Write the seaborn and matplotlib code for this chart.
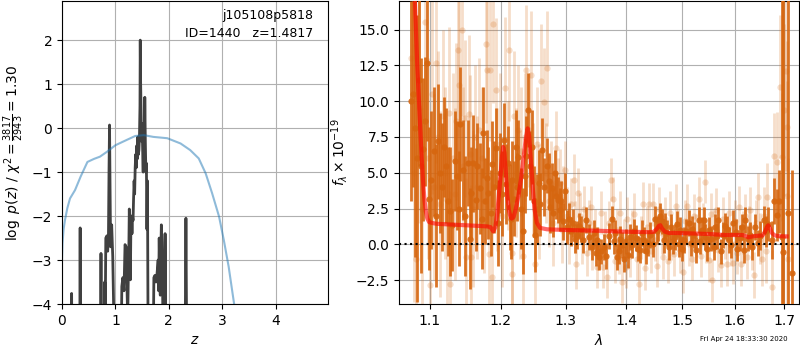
import numpy as np
import pandas as pd
import matplotlib
matplotlib.use("Agg")
import matplotlib.pyplot as plt
import seaborn as sns
from matplotlib.ticker import FixedLocator, FixedFormatter, NullLocator

# ---------------- data: redshift fit panel ----------------
pz_z = [0.00, 0.17, 0.18, 0.19, 0.33, 0.34, 0.35, 0.72, 0.73, 0.74, 0.79, 0.80, 0.81, 0.82,
        0.84, 0.855, 0.87, 0.88, 0.89, 0.90, 0.91, 0.93, 0.95, 0.97, 1.10, 1.12, 1.14, 1.16,
        1.17, 1.18, 1.20, 1.21, 1.22, 1.23, 1.24, 1.25, 1.26, 1.27, 1.28, 1.29, 1.30, 1.31,
        1.32, 1.33, 1.34, 1.35, 1.36, 1.37, 1.38, 1.39, 1.40, 1.41, 1.42, 1.43, 1.44, 1.45,
        1.46, 1.465, 1.47, 1.48, 1.49, 1.50, 1.51, 1.52, 1.53, 1.54, 1.55, 1.56, 1.57, 1.58,
        1.59, 1.60, 1.61, 1.70, 1.72, 1.74, 1.76, 1.78, 1.80, 1.81, 1.82, 1.83, 1.84, 1.85,
        1.86, 1.87, 1.88, 1.89, 1.92, 1.93, 1.94, 2.30, 2.32, 2.34, 3.00]
pz_logp = [-6, -6, -3.76, -6, -6, -2.27, -6, -6, -2.85, -6, -6, -3.5, -4.2, -2.5,
           -2.45, -2.8, -2.4, -1.0, 0.07, -1.4, -2.7, -2.2, -2.92, -4.3, -6, -3.6, -3.4, -3.7,
           -3.2, -2.65, -2.7, -3.1, -3.8, -4.3, -3.5, -2.9, -1.84, -2.5, -3.45, -2.2, -2.0, -2.4,
           -2.0, -2.1, -1.6, -1.2, -1.5, -0.9, -0.6, -0.9, -0.4, -0.7, -0.2, -0.6, -0.5, -0.2,
           0.5, 2.0, 1.2, 0.4, -0.3, 0.1, -0.5, -1.0, 0.1, -0.9, 0.7, -0.3, -1.0, -0.8,
           -2.3, -1.2, -4.3, -6, -3.4, -3.35, -3.5, -3.3, -3.0, -3.7, -2.5, -3.3, -3.8, -2.9,
           -2.2, -2.6, -3.2, -4.5, -6, -2.4, -4.5, -6, -2.05, -6, -6]

prior_z = [0.00, 0.01, 0.03, 0.056, 0.10, 0.15, 0.244, 0.35, 0.476, 0.60, 0.71, 0.84, 1.00,
           1.21, 1.37, 1.53, 1.71, 1.97, 2.22, 2.40, 2.56, 2.69, 2.81, 2.94, 3.03, 3.12,
           3.22, 3.35]
prior_logp = [-3.0, -2.61, -2.30, -2.09, -1.82, -1.60, -1.41, -1.10, -0.77, -0.70, -0.65,
              -0.54, -0.39, -0.27, -0.18, -0.16, -0.20, -0.23, -0.35, -0.50, -0.69, -1.03,
              -1.48, -2.01, -2.55, -3.15, -3.98, -5.0]

# ---------------- data: spectrum panel ----------------
dark_wave = [1.0745, 1.0768, 1.0798, 1.0830, 1.0860, 1.0885, 1.0906, 1.0940, 1.0955, 1.0990,
             1.1020, 1.1054, 1.1085, 1.1110, 1.1140, 1.1167, 1.1195, 1.1220, 1.1250, 1.1280,
             1.1300, 1.1340, 1.1370, 1.1395, 1.1417, 1.1450, 1.1489, 1.1525, 1.1550, 1.1575,
             1.1600, 1.1635, 1.1660, 1.1700, 1.1720, 1.1745, 1.1770, 1.1800, 1.1816, 1.1850,
             1.1877, 1.1900, 1.1926, 1.1960, 1.1985, 1.2015, 1.2054, 1.2080, 1.2104, 1.2130,
             1.2152, 1.2173, 1.2200, 1.2222, 1.2240, 1.2260, 1.2300, 1.2332, 1.2360, 1.2385,
             1.2412, 1.2440, 1.2462, 1.2495, 1.2523, 1.2550, 1.2573, 1.2600, 1.2624, 1.2660,
             1.2700, 1.2727, 1.2750, 1.2778, 1.2800, 1.2820, 1.2850, 1.2870, 1.2900, 1.2920,
             1.2950, 1.2985, 1.3020, 1.3050, 1.3080, 1.3110, 1.3140, 1.3180, 1.3210, 1.3245,
             1.3280, 1.3320, 1.3380, 1.3420, 1.3460, 1.3490, 1.3510, 1.3545, 1.3580, 1.3620,
             1.3660, 1.3700, 1.3760, 1.3790, 1.3815, 1.3845, 1.3872, 1.3900, 1.3930, 1.3960,
             1.3990, 1.4025, 1.4060, 1.4100, 1.4135, 1.4170, 1.4200, 1.4240, 1.4270, 1.4310,
             1.4340, 1.4380, 1.4415, 1.4460, 1.4505, 1.4540, 1.4565, 1.4600, 1.4625, 1.4660,
             1.4690, 1.4715, 1.4750, 1.4790, 1.4830, 1.4867, 1.4900, 1.4930, 1.4960, 1.5000,
             1.5035, 1.5070, 1.5115, 1.5150, 1.5180, 1.5210, 1.5250, 1.5300, 1.5330, 1.5360,
             1.5395, 1.5430, 1.5460, 1.5490, 1.5530, 1.5585, 1.5620, 1.5650, 1.5680, 1.5720,
             1.5760, 1.5800, 1.5840, 1.5880, 1.5925, 1.5960, 1.6015, 1.6050, 1.6100, 1.6140,
             1.6170, 1.6200, 1.6250, 1.6300, 1.6340, 1.6405, 1.6450, 1.6500, 1.6580, 1.6630,
             1.6670, 1.6755, 1.6790, 1.6840, 1.6890, 1.6962, 1.6968, 1.7068, 1.7161]
dark_flux = [10.0, 10.5, 8.1, 6.0, 11.5, 5.5, 6.65, 8.6, 12.7, 3.2,
             4.5, 6.5, 2.0, 7.2, 5.0, 4.0, 6.8, 5.5, 3.0, 2.3,
             1.35, 5.8, 4.8, 2.5, 8.4, 5.2, 2.0, 5.7, 0.4, 3.6,
             5.65, 3.1, 5.5, 3.9, 1.8, 7.8, 3.0, 4.6, 3.6, 2.2,
             5.6, 4.0, 6.7, 1.5, 5.0, 3.55, 7.3, 4.2, 5.7, 2.6,
             1.8, 4.5, 3.2, 6.8, 4.0, 6.1, 2.5, 0.95, 4.8, 6.2,
             9.4, 5.5, 6.8, 3.0, 0.65, 2.5, 4.3, 2.8, 6.6, 4.0,
             5.5, 4.4, 2.6, 3.9, 2.2, 5.0, 3.4, 3.1, 2.4, 3.0,
             1.6, 3.7, 1.2, 1.8, 0.9, 1.5, 0.4, 0.65, 1.3, 1.05,
             0.3, 1.7, 0.53, -0.2, 0.77, -0.6, 0.3, -0.9, -0.5, -0.17,
             -0.8, 0.6, 1.8, 0.2, 0.77, -0.9, -0.5, 0.4, -0.05, -1.0,
             0.2, -0.75, 0.5, -0.05, 0.9, 0.42, -0.3, -0.4, 0.8, 0.3,
             -0.5, 0.1, 0.65, 0.0, 1.8, 0.9, 1.1, 2.0, 1.6, 0.3,
             1.3, 0.77, -0.2, 1.2, 0.2, 0.53, 1.4, 0.0, 1.0, -0.3,
             0.3, 0.9, 1.5, 0.1, 1.1, 0.65, -0.4, 1.7, 0.2, 1.0,
             1.7, 0.5, -0.3, 1.0, 0.4, -0.17, 1.2, 0.6, 1.7, -0.5,
             0.65, 1.3, 1.1, 0.3, -0.05, 1.5, 0.88, -0.3, 0.42, 1.2,
             -0.4, 1.7, 0.4, 0.65, -0.2, 1.2, 0.1, 0.6, 1.7, 0.9,
             1.4, 0.3, 3.0, 2.05, 3.0, 0.5, -0.56, 2.2, -2.0]
dark_err = [7.0, 6.5, 9.0, 10.0, 6.0, 7.5, 5.0, 4.5, 5.5, 5.0,
            4.8, 4.5, 5.0, 4.0, 4.2, 4.5, 3.5, 4.0, 3.8, 4.5,
            3.2, 3.5, 3.8, 4.0, 4.0, 3.5, 4.2, 3.0, 3.5, 3.2,
            3.4, 3.6, 3.0, 3.2, 3.5, 3.2, 3.0, 3.4, 3.2, 3.0,
            3.0, 3.2, 2.8, 3.0, 2.8, 3.0, 2.6, 2.8, 2.6, 3.0,
            2.8, 2.7, 2.6, 2.6, 2.4, 2.6, 2.8, 3.0, 2.6, 2.8,
            2.6, 2.4, 2.6, 2.5, 2.6, 2.4, 2.3, 2.2, 2.2, 2.0,
            1.9, 2.0, 1.8, 1.8, 1.7, 1.6, 1.6, 1.6, 1.5, 1.4,
            1.3, 1.3, 1.2, 1.1, 1.0, 1.0, 1.0, 1.0, 0.9, 0.9,
            0.9, 0.9, 0.9, 0.9, 0.9, 0.9, 0.9, 0.9, 0.9, 0.9,
            0.9, 0.9, 0.9, 0.9, 0.9, 0.9, 0.9, 0.9, 0.9, 0.9,
            0.9, 0.9, 0.9, 0.9, 0.9, 0.9, 0.9, 0.9, 0.9, 0.9,
            0.9, 0.9, 0.9, 0.9, 0.9, 0.9, 0.9, 0.9, 0.9, 0.9,
            0.9, 0.9, 0.9, 0.9, 0.9, 0.9, 0.9, 0.9, 0.9, 0.9,
            0.9, 0.9, 0.9, 0.9, 0.9, 0.9, 0.9, 0.9, 0.9, 0.9,
            0.9, 0.9, 0.9, 0.9, 0.9, 0.9, 0.9, 0.9, 0.9, 0.9,
            0.9, 0.9, 0.9, 0.9, 0.9, 0.9, 0.9, 0.9, 0.9, 0.9,
            0.9, 0.9, 0.9, 0.9, 0.9, 0.9, 0.9, 1.0, 1.0, 1.1,
            1.2, 1.3, 1.6, 1.8, 2.2, 25.0, 25.0, 25.0, 7.2]

light_wave = [1.0745, 1.0790, 1.0820, 1.0860, 1.0900, 1.0934, 1.0970, 1.1000, 1.1030, 1.1050,
              1.1077, 1.1110, 1.1140, 1.1180, 1.1210, 1.1235, 1.1260, 1.1276, 1.1310, 1.1340,
              1.1365, 1.1387, 1.1400, 1.1436, 1.1460, 1.1489, 1.1505, 1.1535, 1.1560, 1.1570,
              1.1600, 1.1630, 1.1660, 1.1690, 1.1720, 1.1750, 1.1786, 1.1800, 1.1828, 1.1842,
              1.1874, 1.1888, 1.1926, 1.1950, 1.1990, 1.2020, 1.2065, 1.2100, 1.2125, 1.2160,
              1.2165, 1.2190, 1.2220, 1.2250, 1.2280, 1.2300, 1.2332, 1.2360, 1.2382, 1.2420,
              1.2457, 1.2480, 1.2510, 1.2540, 1.2580, 1.2610, 1.2650, 1.2680, 1.2700, 1.2730,
              1.2760, 1.2800, 1.2840, 1.2870, 1.2900, 1.2930, 1.2960, 1.2985, 1.3020, 1.3050,
              1.3080, 1.3125, 1.3150, 1.3170, 1.3200, 1.3230, 1.3260, 1.3300, 1.3340, 1.3370,
              1.3400, 1.3430, 1.3470, 1.3510, 1.3530, 1.3570, 1.3600, 1.3640, 1.3680, 1.3710,
              1.3745, 1.3770, 1.3800, 1.3840, 1.3870, 1.3900, 1.3930, 1.3960, 1.3990, 1.4020,
              1.4060, 1.4100, 1.4140, 1.4180, 1.4225, 1.4250, 1.4290, 1.4320, 1.4360, 1.4400,
              1.4430, 1.4470, 1.4500, 1.4540, 1.4580, 1.4620, 1.4650, 1.4690, 1.4730, 1.4770,
              1.4800, 1.4840, 1.4880, 1.4920, 1.4960, 1.5020, 1.5050, 1.5090, 1.5130, 1.5170,
              1.5210, 1.5250, 1.5300, 1.5340, 1.5380, 1.5415, 1.5450, 1.5490, 1.5530, 1.5560,
              1.5600, 1.5640, 1.5680, 1.5720, 1.5760, 1.5800, 1.5840, 1.5880, 1.5920, 1.5960,
              1.6000, 1.6040, 1.6080, 1.6120, 1.6160, 1.6200, 1.6230, 1.6270, 1.6300, 1.6340,
              1.6380, 1.6420, 1.6460, 1.6500, 1.6540, 1.6580, 1.6620, 1.6650, 1.6750, 1.6790,
              1.6850, 1.6907, 1.6962, 1.6998, 1.7035, 1.7050, 1.7066, 1.7080]
light_flux = [13.0, 5.0, -1.0, 9.5, 2.5, 15.5, 6.0, -2.84, 10.5, 4.0,
              12.7, 7.5, 2.8, 9.0, 5.0, 1.5, 9.2, -2.77, 6.0, 3.5,
              8.6, 13.6, 11.1, 15.0, 5.5, 8.8, -0.86, 9.1, 6.3, -0.86,
              2.5, 7.5, 4.0, 8.0, 6.0, 3.0, 14.0, 12.2, -0.68, 12.2,
              -2.3, 15.4, 10.8, 4.5, 7.0, 2.0, 10.9, 5.5, 13.6, -2.07,
              -0.6, 9.0, 5.0, 8.0, 3.5, 6.5, -0.8, 7.5, 12.2, 8.0,
              11.8, 4.5, -1.37, 7.0, 3.0, 11.4, 9.95, 5.0, 12.3, 3.0,
              4.2, 1.5, 6.7, 3.5, 4.26, 1.0, 3.3, 5.2, 2.0, 0.5,
              2.8, 4.5, 1.2, -1.4, 3.6, 2.0, 0.2, 2.5, -0.6, 1.5,
              2.6, -0.3, 1.0, -1.56, -0.28, 2.2, -1.56, 0.8, -2.26, 1.5,
              4.5, 3.2, -1.2, 1.0, -0.6, 2.2, -2.6, 0.3, -1.56, 1.8,
              -0.8, 0.9, 2.1, -1.0, -2.8, 0.5, 2.85, -1.67, 1.2, 2.8,
              -0.5, 2.8, 0.3, -1.5, 2.5, 0.8, -0.9, 1.8, -1.2, 2.2,
              0.4, -0.7, 2.7, 1.0, -0.5, -1.9, 1.6, 2.7, 0.0, -1.0,
              2.0, 0.6, 3.2, -0.8, 1.4, 4.37, 0.2, -1.1, 2.1, -2.5,
              0.9, 2.4, -0.4, -1.45, 1.8, 0.5, -1.4, 2.2, 0.0, -1.3,
              1.6, -0.6, 2.6, -1.4, 0.8, 2.0, -0.9, 1.2, 2.4, -0.2,
              -2.14, 1.5, 3.3, 0.4, -1.0, 2.0, -0.5, 3.3, -3.0, 6.2,
              5.76, 11.0, 6.1, 9.4, 12.1, 8.2, 3.4, -1.0]
light_err = [8, 9, 8, 8, 7, 8, 7, 7, 7, 6.5,
             7, 6, 6.5, 6, 6, 6, 6, 6.5, 6, 6,
             5.5, 6, 6, 6, 5.5, 5.5, 5.5, 5.5, 5.5, 5.0,
             5.5, 5.0, 5.0, 5.0, 5.0, 5.0, 5.5, 5.5, 5.0, 5.0,
             5.0, 5.5, 5.0, 5.0, 5.0, 5.0, 5.0, 4.5, 5.0, 4.5,
             4.5, 4.5, 4.5, 4.5, 4.5, 4.5, 4.5, 4.5, 4.5, 4.0,
             4.5, 4.0, 4.0, 4.0, 4.0, 4.0, 3.8, 3.5, 4.0, 3.2,
             3.0, 3.0, 2.6, 2.5, 2.4, 2.3, 2.2, 2.0, 2.0, 1.9,
             1.8, 1.8, 1.8, 1.7, 1.7, 1.6, 1.6, 1.6, 1.6, 1.6,
             1.5, 1.5, 1.5, 1.5, 1.5, 1.5, 1.5, 1.5, 1.5, 1.5,
             1.5, 1.5, 1.5, 1.5, 1.5, 1.5, 1.5, 1.5, 1.5, 1.5,
             1.5, 1.5, 1.5, 1.5, 1.5, 1.5, 1.5, 1.5, 1.5, 1.5,
             1.5, 1.5, 1.5, 1.5, 1.5, 1.5, 1.5, 1.5, 1.5, 1.5,
             1.5, 1.5, 1.5, 1.5, 1.5, 1.5, 1.5, 1.5, 1.5, 1.5,
             1.5, 1.5, 1.5, 1.5, 1.5, 1.5, 1.5, 1.5, 1.5, 1.5,
             1.5, 1.5, 1.5, 1.5, 1.5, 1.5, 1.5, 1.5, 1.5, 1.5,
             1.5, 1.5, 1.5, 1.5, 1.5, 1.5, 1.5, 1.5, 1.6, 1.6,
             1.6, 1.6, 1.7, 1.8, 1.9, 2.0, 2.2, 2.4, 2.6, 3.0,
             3.5, 5.0, 4.5, 6.0, 7.0, 6.0, 8.0, 7.0]

model_wave = [1.0700, 1.0760, 1.0799, 1.0830, 1.0853, 1.0880, 1.0906, 1.0925, 1.0945, 1.0965,
              1.0990, 1.1050, 1.1100, 1.1300, 1.1500, 1.1700, 1.1800, 1.1850, 1.1890, 1.1920,
              1.1950, 1.1975, 1.2000, 1.2020, 1.2036, 1.2055, 1.2075, 1.2095, 1.2120, 1.2145,
              1.2162, 1.2190, 1.2220, 1.2260, 1.2300, 1.2340, 1.2375, 1.2403, 1.2425, 1.2450,
              1.2480, 1.2510, 1.2545, 1.2592, 1.2700, 1.3000, 1.3500, 1.4000, 1.4400, 1.4480,
              1.4530, 1.4575, 1.4600, 1.4630, 1.4680, 1.4750, 1.5000, 1.5500, 1.5800, 1.6150,
              1.6230, 1.6264, 1.6300, 1.6400, 1.6550, 1.6600, 1.6640, 1.6668, 1.6700, 1.6740,
              1.6800, 1.6900, 1.7049]
model_flux = [30.0, 22.0, 17.0, 12.5, 10.0, 7.0, 4.5, 3.2, 2.3, 1.8,
              1.55, 1.47, 1.43, 1.38, 1.33, 1.28, 1.25, 1.2, 0.9, 1.2,
              2.2, 3.6, 5.0, 6.2, 6.8, 6.4, 5.0, 3.5, 2.4, 1.9,
              1.8, 1.9, 2.4, 3.3, 4.5, 6.0, 7.4, 8.1, 7.6, 6.0,
              4.0, 2.4, 1.5, 1.15, 1.05, 1.0, 0.95, 0.88, 0.85, 0.87,
              1.05, 1.3, 1.33, 1.1, 0.88, 0.8, 0.78, 0.72, 0.65, 0.65,
              0.55, 0.49, 0.52, 0.58, 0.62, 0.85, 1.2, 1.33, 1.15, 0.8,
              0.62, 0.57, 0.55]

wave_ticks = [1.1, 1.2, 1.3, 1.4, 1.5, 1.6, 1.7]
wave_tick_labels = ["1.1", "1.2", "1.3", "1.4", "1.5", "1.6", "1.7"]

# ---------------- figure ----------------
fig = plt.figure(figsize=(8, 3.5), dpi=100)
ax1 = fig.add_axes([62 / 800, 46 / 350, 266 / 800, 303 / 350])
ax2 = fig.add_axes([399 / 800, 46 / 350, 400 / 800, 303 / 350])

# left panel
df_pz = pd.DataFrame({"z": pz_z, "logp": pz_logp})
df_prior = pd.DataFrame({"z": prior_z, "logp": prior_logp})
sns.lineplot(data=df_pz, x="z", y="logp", ax=ax1, color="0.25", lw=2,
             estimator=None, sort=False)
sns.lineplot(data=df_prior, x="z", y="logp", ax=ax1, color="tab:blue", alpha=0.5,
             lw=1.5, estimator=None, sort=False)
ax1.set_xlim(0, 4.98)
ax1.set_ylim(-4, 2.89)
ax1.set_xticks([0, 1, 2, 3, 4])
ax1.set_yticks([-4, -3, -2, -1, 0, 1, 2])
ax1.grid(True)
ax1.set_axisbelow(True)
ax1.set_xlabel(r"$z$")
ax1.set_ylabel(r"$\log\ p(z)$" + " / " + r"$\chi^2=\frac{3817}{2943}=1.30$")
ax1.text(0.945, 0.975, "j105108p5818\nID=1440   z=1.4817", ha="right", va="top",
         transform=ax1.transAxes, fontsize=9, linespacing=1.55)

# right panel
col = (0.84, 0.40, 0.06)
ax2.set_xscale("log")
ax2.errorbar(light_wave, light_flux, yerr=light_err, fmt="o", color=col, alpha=0.22,
             ms=4.5, elinewidth=2, mew=0, zorder=2)
ax2.errorbar(dark_wave, dark_flux, yerr=dark_err, fmt="o", color=col, alpha=0.9,
             ms=4.5, elinewidth=2, mew=0, zorder=3)
df_model = pd.DataFrame({"wave": model_wave, "flux": model_flux})
sns.lineplot(data=df_model, x="wave", y="flux", ax=ax2, color="red", alpha=0.6,
             lw=3, estimator=None, sort=False, zorder=4)
ax2.axhline(0, color="k", ls=":", lw=1.5, zorder=5)
ax2.set_xlim(1.059, 1.731)
ax2.set_ylim(-4.17, 17)
ax2.xaxis.set_major_locator(FixedLocator(wave_ticks))
ax2.xaxis.set_major_formatter(FixedFormatter(wave_tick_labels))
ax2.xaxis.set_minor_locator(NullLocator())
ax2.set_yticks([-2.5, 0.0, 2.5, 5.0, 7.5, 10.0, 12.5, 15.0])
ax2.grid(True)
ax2.set_axisbelow(True)
ax2.set_xlabel(r"$\lambda$")
ax2.set_ylabel(r"$f_\lambda\times10^{-19}$")

fig.text(0.985, 0.022, "Fri Apr 24 18:33:30 2020", ha="right", va="bottom", fontsize=5)

fig.savefig("out.png", dpi=100)
